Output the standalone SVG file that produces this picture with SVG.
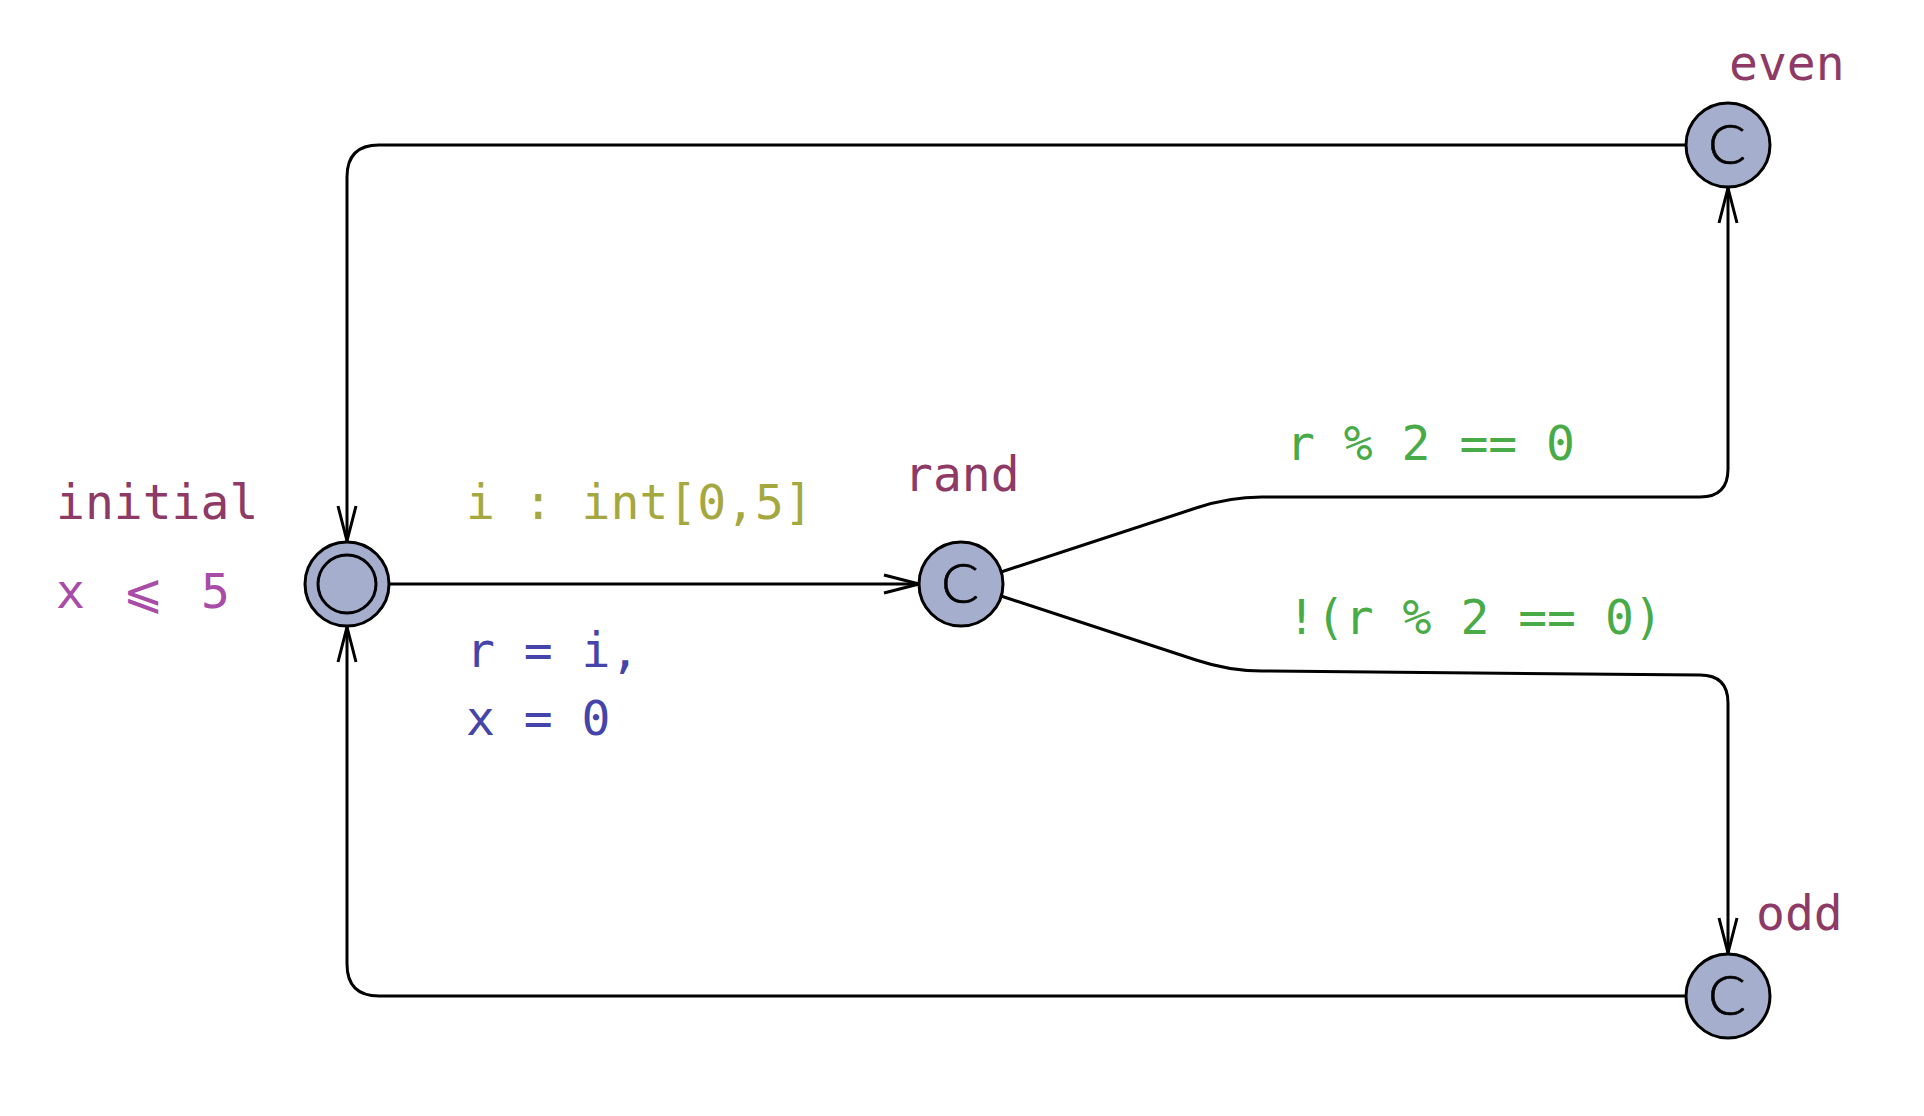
<svg xmlns="http://www.w3.org/2000/svg" width="1924" height="1116" viewBox="0 0 1924 1116">
<style>
.node{fill:#a5aecd;stroke:#000;stroke-width:3}
.edge{fill:none;stroke:#000;stroke-width:3}
.lbl{font-family:"DejaVu Sans Mono","Liberation Mono",monospace;font-size:48px}
.name{fill:#8e3a66}
.inv{fill:#a84ca8}
.sel{fill:#a5a83f}
.grd{fill:#48ab48}
.upd{fill:#4444aa}
.c{font-family:Lato,Roboto,"DejaVu Sans",sans-serif;font-weight:300;font-size:56px;fill:#000;stroke:#000;stroke-width:0.6;text-anchor:middle}
</style>
<defs>
<marker id="arr" markerUnits="userSpaceOnUse" markerWidth="60" markerHeight="40" refX="0" refY="0" viewBox="-40 -20 60 40" orient="auto" overflow="visible">
<path d="M-35,-9 L0,0 L-35,9" fill="none" stroke="#000" stroke-width="3" stroke-linejoin="miter"/>
</marker>
</defs>
<rect width="1924" height="1116" fill="#fff"/>
<g id="connectors">
<path class="edge" d="M389,584 L919,584" marker-end="url(#arr)"/>
<path class="edge" d="M1001,572 L1196,508 C1217,501 1240,497 1262,497 L1700,497 Q1728,497 1728,469 L1728,188" marker-end="url(#arr)"/>
<path class="edge" d="M1001,596 L1196,660 C1217,667 1240,671 1262,671 L1700,675 Q1728,675 1728,703 L1728,953" marker-end="url(#arr)"/>
<path class="edge" d="M1686,145 L379,145 Q347,145 347,177 L347,541" marker-end="url(#arr)"/>
<path class="edge" d="M1686,996 L379,996 Q347,996 347,964 L347,627" marker-end="url(#arr)"/>
</g>
<g id="edge-labels">
<text class="lbl sel" x="466" y="519">i : int[0,5]</text>
<text class="lbl upd" x="466" y="667">r = i,</text>
<text class="lbl upd" x="466" y="735">x = 0</text>
<text class="lbl grd" x="1286" y="460">r % 2 == 0</text>
<text class="lbl grd" x="1287" y="634">!(r % 2 == 0)</text>
</g>
<g id="initial">
<circle class="node" cx="347" cy="584" r="42"/>
<circle class="node" cx="347" cy="584" r="29"/>
<text class="lbl name" x="56" y="519">initial</text>
<text class="lbl inv" x="56" y="608">x <tspan x="143" text-anchor="middle">⩽</tspan><tspan x="201">5</tspan></text>
</g>
<g id="rand">
<circle class="node" cx="961" cy="584" r="42"/>
<text class="c" x="960" y="603">C</text>
<text class="lbl name" x="904" y="491">rand</text>
</g>
<g id="even">
<circle class="node" cx="1728" cy="145" r="42"/>
<text class="c" x="1727" y="164">C</text>
<text class="lbl name" x="1729" y="80">even</text>
</g>
<g id="odd">
<circle class="node" cx="1728" cy="996" r="42"/>
<text class="c" x="1727" y="1015">C</text>
<text class="lbl name" x="1756" y="930">odd</text>
</g>
</svg>
